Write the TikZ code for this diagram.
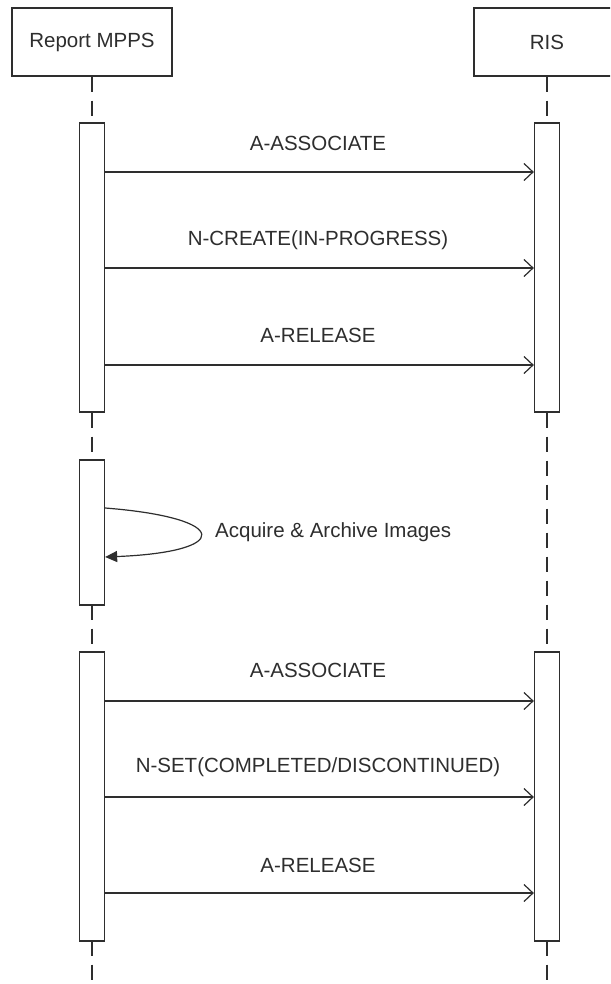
\documentclass[tikz,border=0pt]{standalone}
\usepackage{fontspec}
\setmainfont{Liberation Sans}
\usetikzlibrary{arrows.meta}
\definecolor{ink}{HTML}{2E2E2E}
\begin{document}
\begin{tikzpicture}[x=1pt,y=-1pt,
  every node/.style={font=\fontsize{20.5}{24}\selectfont, text=ink},
  actor/.style={draw=ink, line width=1.3pt, fill=white, minimum width=160pt, minimum height=68pt, inner sep=0pt},
  bar/.style={draw=ink, line width=1.3pt, fill=white, minimum width=25pt, inner sep=0pt},
  lifeline/.style={draw=ink, line width=1.3pt, dash pattern=on 15pt off 9pt},
  msg/.style={draw=ink, line width=1.2pt, -{Straight Barb[length=9pt,width=17pt,line width=1.2pt]}},
  selfmsg/.style={draw=ink, line width=1.2pt, -{Triangle[length=12pt,width=11pt]}},
  lbl/.style={inner sep=0pt}
]
\useasboundingbox (0,0) rectangle (610,984);
\fill[white] (0,0) rectangle (610,984);
\begin{scope}
\clip (0,0) rectangle (610,984);
% lifelines
\coordinate (mppsEnd) at (92,984);
\coordinate (risEnd) at (547,984);
\node[actor] (mpps) at (92,42) {Report MPPS};
\node[actor, minimum width=146pt] (ris) at (547,42) {RIS};
\draw[lifeline] (mpps.south) -- (mppsEnd);
\draw[lifeline] (ris.south) -- (risEnd);
\end{scope}
% activation bars
\node[bar, minimum height=289pt] (m1) at (92,267.5) {};
\node[bar, minimum height=289pt] (r1) at (547,267.5) {};
\node[bar, minimum height=145pt] (m2) at (92,532.5) {};
\node[bar, minimum height=289pt] (m3) at (92,796.5) {};
\node[bar, minimum height=289pt] (r3) at (547,796.5) {};
% message endpoints
\coordinate (a1s) at (m1.east |- 0,172);  \coordinate (a1e) at (r1.west |- 0,172);
\coordinate (a2s) at (m1.east |- 0,268);  \coordinate (a2e) at (r1.west |- 0,268);
\coordinate (a3s) at (m1.east |- 0,365);  \coordinate (a3e) at (r1.west |- 0,365);
\coordinate (b1s) at (m3.east |- 0,701);  \coordinate (b1e) at (r3.west |- 0,701);
\coordinate (b2s) at (m3.east |- 0,797);  \coordinate (b2e) at (r3.west |- 0,797);
\coordinate (b3s) at (m3.east |- 0,893);  \coordinate (b3e) at (r3.west |- 0,893);
\coordinate (ls) at (m2.east |- 0,508);   \coordinate (le) at (m2.east |- 0,557);
% messages
\draw[msg] (a1s) -- (a1e);
\draw[msg] (a2s) -- (a2e);
\draw[msg] (a3s) -- (a3e);
\draw[msg] (b1s) -- (b1e);
\draw[msg] (b2s) -- (b2e);
\draw[msg] (b3s) -- (b3e);
\draw[selfmsg] (ls) .. controls (232,518) and (232,552) .. (le);
% labels
\node[lbl] (t1) at (318,143) {A-ASSOCIATE};
\node[lbl] (t2) at (318,240) {N-CREATE(IN-PROGRESS)};
\node[lbl] (t3) at (318,335) {A-RELEASE};
\node[lbl, anchor=west] (t4) at (215,532) {Acquire \& Archive Images};
\node[lbl] (t5) at (318,670) {A-ASSOCIATE};
\node[lbl] (t6) at (318,767) {N-SET(COMPLETED/DISCONTINUED)};
\node[lbl] (t7) at (318,865) {A-RELEASE};
\end{tikzpicture}
\end{document}
